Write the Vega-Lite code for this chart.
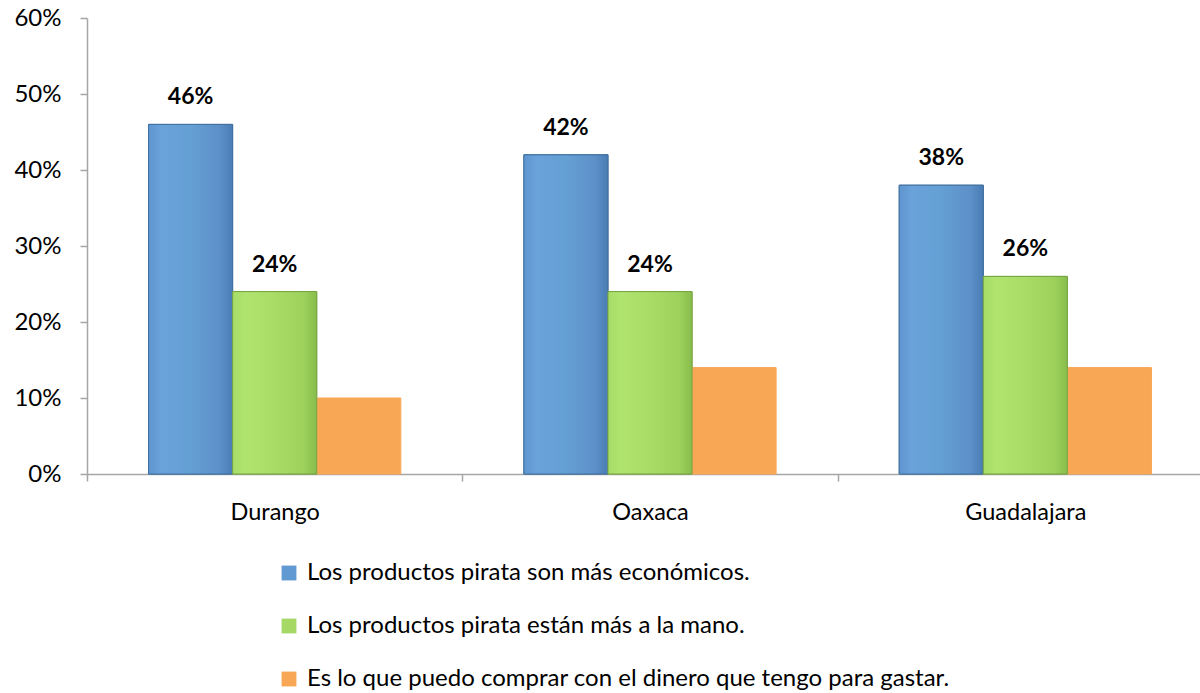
{
  "$schema": "https://vega.github.io/schema/vega-lite/v6.json",
  "autosize": {"type": "none"},
  "padding": {"left": 87, "top": 18, "right": 0, "bottom": 219},
  "width": 1126,
  "height": 456,
  "background": "white",
  "config": {
    "font": "Lato",
    "view": {"stroke": null}
  },
  "data": {
    "values": [
      {"ciudad": "Durango", "razon": "Los productos pirata son más económicos.", "valor": 0.46},
      {"ciudad": "Durango", "razon": "Los productos pirata están más a la mano.", "valor": 0.24},
      {"ciudad": "Durango", "razon": "Es lo que puedo comprar con el dinero que tengo para gastar.", "valor": 0.10},
      {"ciudad": "Oaxaca", "razon": "Los productos pirata son más económicos.", "valor": 0.42},
      {"ciudad": "Oaxaca", "razon": "Los productos pirata están más a la mano.", "valor": 0.24},
      {"ciudad": "Oaxaca", "razon": "Es lo que puedo comprar con el dinero que tengo para gastar.", "valor": 0.14},
      {"ciudad": "Guadalajara", "razon": "Los productos pirata son más económicos.", "valor": 0.38},
      {"ciudad": "Guadalajara", "razon": "Los productos pirata están más a la mano.", "valor": 0.26},
      {"ciudad": "Guadalajara", "razon": "Es lo que puedo comprar con el dinero que tengo para gastar.", "valor": 0.14}
    ]
  },
  "encoding": {
    "x": {
      "field": "ciudad", "type": "nominal",
      "sort": ["Durango", "Oaxaca", "Guadalajara"],
      "scale": {"paddingInner": 0, "paddingOuter": 0},
      "axis": {
        "title": null, "labelAngle": 0, "labelFontSize": 23.5, "labelColor": "#000000",
        "labelPadding": 19, "domainColor": "#a6a6a6", "domainWidth": 1.5,
        "tickColor": "#a6a6a6", "tickSize": 7, "tickWidth": 1.5, "tickBand": "extent"
      }
    },
    "xOffset": {
      "field": "razon", "type": "nominal",
      "sort": ["Los productos pirata son más económicos.", "Los productos pirata están más a la mano.", "Es lo que puedo comprar con el dinero que tengo para gastar."],
      "scale": {"paddingInner": 0, "paddingOuter": 0.732}
    },
    "y": {
      "field": "valor", "type": "quantitative",
      "scale": {"domain": [0, 0.6], "nice": false},
      "axis": {
        "title": null, "format": ".0%", "values": [0, 0.1, 0.2, 0.3, 0.4, 0.5, 0.6],
        "grid": false, "labelFontSize": 24, "labelColor": "#000000", "labelPadding": 19,
        "domainColor": "#a6a6a6", "domainWidth": 1.5, "tickColor": "#a6a6a6", "tickSize": 7, "tickWidth": 1.5
      }
    }
  },
  "layer": [
    {
      "mark": {"type": "bar", "strokeWidth": 1},
      "encoding": {
        "color": {
          "field": "razon", "type": "nominal",
          "scale": {
            "domain": ["Los productos pirata son más económicos.", "Los productos pirata están más a la mano.", "Es lo que puedo comprar con el dinero que tengo para gastar."],
            "range": ["#6199d2", "#a6d865", "#f8a755"]
          },
          "legend": {
            "title": null, "orient": "none", "legendX": 190, "legendY": 543,
            "direction": "vertical", "symbolType": "square", "symbolSize": 220,
            "symbolStrokeWidth": 0, "labelFontSize": 24, "labelColor": "#000000",
            "rowPadding": 29, "labelOffset": 6, "labelLimit": 900
          }
        },
        "stroke": {
          "field": "razon", "type": "nominal",
          "scale": {
            "domain": ["Los productos pirata son más económicos.", "Los productos pirata están más a la mano.", "Es lo que puedo comprar con el dinero que tengo para gastar."],
            "range": ["#41709f", "#76a543", "#f8a755"]
          },
          "legend": null
        }
      }
    },
    {
      "transform": [{"filter": "datum.razon === 'Los productos pirata son más económicos.'"}],
      "mark": {
        "type": "bar", "stroke": "#41709f", "strokeWidth": 1,
        "fill": {"gradient": "linear", "x1": 0, "y1": 0, "x2": 1, "y2": 0,
          "stops": [{"offset": 0, "color": "#5f95d0"}, {"offset": 0.15, "color": "#6aa2da"}, {"offset": 0.5, "color": "#64a0d4"}, {"offset": 0.85, "color": "#5d90c8"}, {"offset": 1, "color": "#4a7cb4"}]}
      }
    },
    {
      "transform": [{"filter": "datum.razon === 'Los productos pirata están más a la mano.'"}],
      "mark": {
        "type": "bar", "stroke": "#76a543", "strokeWidth": 1,
        "fill": {"gradient": "linear", "x1": 0, "y1": 0, "x2": 1, "y2": 0,
          "stops": [{"offset": 0, "color": "#a6dc68"}, {"offset": 0.15, "color": "#b0e46e"}, {"offset": 0.5, "color": "#a8dc66"}, {"offset": 0.85, "color": "#9dd15c"}, {"offset": 1, "color": "#88bd4c"}]}
      }
    },
    {
      "transform": [{"filter": "datum.razon !== 'Es lo que puedo comprar con el dinero que tengo para gastar.'"}],
      "mark": {"type": "text", "baseline": "bottom", "dy": -15, "fontSize": 23, "fontWeight": "bold", "color": "#000000"},
      "encoding": {
        "text": {"field": "valor", "type": "quantitative", "format": ".0%"}
      }
    }
  ]
}
